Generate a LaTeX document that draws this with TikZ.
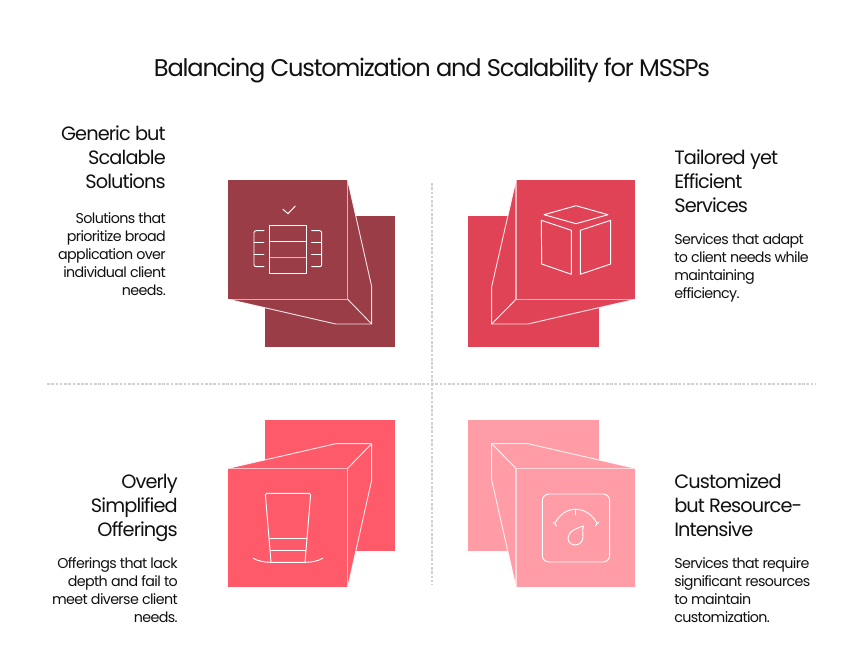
\documentclass[tikz,border=0pt]{standalone}
\usepackage{fontspec}
\setmainfont{Poppins}
\newfontfamily\titlefont{Poppins}[LetterSpace=-5.0]
\newfontfamily\headfont{Poppins}[LetterSpace=-4.6]
\newfontfamily\bodyfont{Poppins}[LetterSpace=-4.4]
\definecolor{cA}{HTML}{9A3D47}
\definecolor{cB}{HTML}{E04355}
\definecolor{cC}{HTML}{FF5A6A}
\definecolor{cD}{HTML}{FF9CA6}
\definecolor{ink}{HTML}{111111}
\tikzset{
  x=0.75pt,y=-0.75pt,
  sheet/.style={fill=#1,draw=none},
  rim/.style={draw=white,draw opacity=.6,line width=1.1pt,line join=round},
  facet/.style={draw=white,draw opacity=.85,line width=0.7pt,line join=round},
  icon/.style={draw=white,line width=0.7pt,line join=round,line cap=round},
  guide/.style={draw=black!18,line width=1pt,dash pattern=on 2pt off 1.2pt},
  titletext/.style={font=\titlefont\fontsize{18.1}{22}\selectfont,text=ink,inner sep=0pt},
  headL/.style={font=\headfont\fontsize{14.5}{18}\selectfont,text=ink,inner sep=0pt,align=right,anchor=north east},
  headR/.style={font=\headfont\fontsize{14.5}{18}\selectfont,text=ink,inner sep=0pt,align=left,anchor=north west},
  bodyL/.style={font=\bodyfont\fontsize{10.7}{13.5}\selectfont,text=ink,inner sep=0pt,align=right,anchor=north east},
  bodyR/.style={font=\bodyfont\fontsize{10.7}{13.5}\selectfont,text=ink,inner sep=0pt,align=left,anchor=north west},
}
\begin{document}
\begin{tikzpicture}
\path[use as bounding box,fill=white] (0,0) rectangle (864,660);
\node[titletext] (title) at (432,71) {Balancing Customization and Scalability for MSSPs};
\coordinate (vt) at (432,183); \coordinate (vb) at (432,585);
\coordinate (hl) at (47,384); \coordinate (hr) at (816,384);
\draw[guide] (vt) -- (vb);
\draw[guide] (hl) -- (hr);
% panel 1
\fill[sheet=cA] (264.6,216.3) rectangle (395.4,347.4);
\fill[cA] (347.7,180.3) -- (371.7,286.7) -- (371.7,324) -- (335.7,324) -- (228.3,299.3) -- cycle;
\fill[sheet=cA] (228.3,180.3) rectangle (347.7,299.3);
\draw[facet] (347.7,180.3) -- (371.7,286.7) -- (371.7,324) -- (335.7,324) -- (228.3,299.3);
\draw[facet] (347.7,299.3) -- (371.7,324);
\draw[rim] (228.3,299.3) -- (347.7,299.3) -- (347.7,180.3);
\draw[icon] (283,209.3) -- (288,213.7) -- (295.3,206);
\draw[icon] (269.3,225.3) rectangle (306,273.3);
\draw[icon] (269.3,241.3) -- (306,241.3);
\draw[icon,draw opacity=.65,line width=1pt] (270,257.7) -- (305.5,257.7);
\draw[icon,rounded corners=1.5pt] (264,230.7) -- (254,230.7) -- (254,266.7) -- (264,266.7);
\draw[icon] (254,242.3) -- (264,242.3);
\draw[icon] (254,254.7) -- (264,254.7);
\draw[icon,rounded corners=1.5pt] (311.7,230.7) -- (321.7,230.7) -- (321.7,266.7) -- (311.7,266.7);
\draw[icon] (311.7,242.3) -- (321.7,242.3);
\draw[icon] (311.7,254.7) -- (321.7,254.7);
% panel 2
\fill[sheet=cB] (468.3,216.3) rectangle (599.3,347.4);
\fill[cB] (516,180.3) -- (491.7,286.7) -- (491.7,324) -- (528,324) -- (635.3,299.3) -- cycle;
\fill[sheet=cB] (516,180.3) rectangle (635.3,299.3);
\draw[facet] (516,180.3) -- (491.7,286.7) -- (491.7,324) -- (528,324) -- (635.3,299.3);
\draw[facet] (516,299.3) -- (491.7,324);
\draw[rim] (635.3,299.3) -- (516,299.3) -- (516,180.3);
\draw[icon] (576,205.7) -- (608,214.7) -- (576,223.7) -- (544,214.7) -- cycle;
\draw[icon] (541.3,220.3) -- (571.3,230.3) -- (571.3,274.3) -- (541.7,264) -- cycle;
\draw[icon] (580.3,230.3) -- (610.7,220.3) -- (610.7,264) -- (580.3,274.3) -- cycle;
% panel 3
\fill[sheet=cC] (264.6,420.3) rectangle (395.4,551.3);
\fill[cC] (228.3,468.3) -- (335.7,443.7) -- (371.7,443.7) -- (371.7,480) -- (347.7,587.3) -- cycle;
\fill[sheet=cC] (228.3,468.3) rectangle (347.7,587.3);
\draw[facet] (228.3,468.3) -- (335.7,443.7) -- (371.7,443.7) -- (371.7,480) -- (347.7,587.3);
\draw[facet] (347.7,468.3) -- (371.7,443.7);
\draw[rim] (228.3,468.3) -- (347.7,468.3) -- (347.7,587.3);
\draw[icon] (271,562.3) -- (265.4,495) .. controls (265.3,494) and (265.6,493.3) .. (266.6,493.3) -- (309.4,493.3) .. controls (310.4,493.3) and (310.7,494) .. (310.6,495) -- (305,562.3);
\draw[icon] (269.5,538.3) -- (306.5,538.3);
\draw[icon] (270.6,550.7) -- (305.6,550.7);
\draw[icon] (253.3,558.3) .. controls (258,561) and (264,562.3) .. (271,562.3) -- (305,562.3) .. controls (312,562.3) and (318,561) .. (322.7,558.3);
% panel 4
\fill[sheet=cD] (468.3,420.3) rectangle (599.3,551.3);
\fill[cD] (635.3,468.3) -- (528,443.7) -- (491.7,443.7) -- (491.7,480) -- (516,587.3) -- cycle;
\fill[sheet=cD] (516,468.3) rectangle (635.3,587.3);
\draw[facet] (635.3,468.3) -- (528,443.7) -- (491.7,443.7) -- (491.7,480) -- (516,587.3);
\draw[facet] (516,468.3) -- (491.7,443.7);
\draw[rim] (635.3,468.3) -- (516,468.3) -- (516,587.3);
\draw[icon,rounded corners=5pt] (542.3,494) rectangle (609.7,562);
\draw[icon] (555,523.3) .. controls (560,514) and (567,509.3) .. (575.7,509.3) .. controls (584,509.3) and (592,514) .. (597,523.3);
\draw[icon] (575.7,509.3) -- (575.7,515);
\draw[icon] (553.3,522.3) -- (556.7,526);
\draw[icon] (595,526) -- (598.7,522.3);
\draw[icon] (583.7,526) .. controls (582,530) and (583,533) .. (583,537) .. controls (583,542) and (579,545) .. (575,545) .. controls (571,545) and (568,542) .. (568,538) .. controls (568,532) and (576,528) .. (583.7,526) -- cycle;
% text
\node[headL] (h1) at (166,126) {Generic but\\Scalable\\Solutions};
\node[bodyL] (b1) at (166,212.5) {Solutions that\\prioritize broad\\application over\\individual client\\needs.};
\node[headR] (h2) at (674,150) {Tailored yet\\Efficient\\Services};
\node[bodyR] (b2) at (674,233.5) {Services that adapt\\to client needs while\\maintaining\\efficiency.};
\node[headL] (h3) at (178,474) {Overly\\Simplified\\Offerings};
\node[bodyL] (b3) at (178,557.5) {Offerings that lack\\depth and fail to\\meet diverse client\\needs.};
\node[headR] (h4) at (674,474) {Customized\\but Resource-\\Intensive};
\node[bodyR] (b4) at (674,557.5) {Services that require\\significant resources\\to maintain\\customization.};
\end{tikzpicture}
\end{document}
